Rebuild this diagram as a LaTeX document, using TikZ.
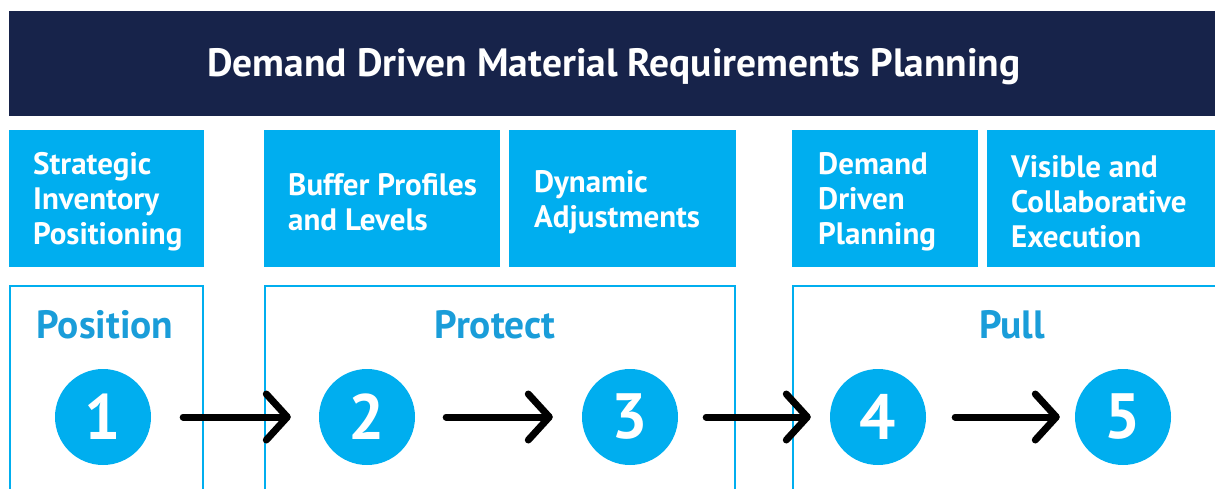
\documentclass[tikz,border=0pt]{standalone}
\usepackage{fontspec}
\usetikzlibrary{arrows.meta}
\setmainfont{PT Sans}
\definecolor{navy}{HTML}{17234A}
\definecolor{cyan}{HTML}{00AEEF}
\definecolor{lblue}{HTML}{1A9DD9}
\tikzset{
  topbox/.style={fill=cyan, draw=none},
  boxtext/.style={anchor=west, align=left, text=white, font=\bfseries\fontsize{31}{35}\selectfont, inner sep=0pt},
  frame/.style={draw=cyan, line width=2pt},
  phase/.style={text=lblue, font=\bfseries\fontsize{39.5}{42}\selectfont, inner sep=0pt},
  stepcircle/.style={circle, fill=cyan, minimum size=96pt, inner sep=0pt, text=white, font=\bfseries\fontsize{64}{64}\selectfont},
  flow/.style={line width=7pt, line cap=round, -{Straight Barb[length=21pt, width=46pt, line width=7pt, round]}}
}
\begin{document}
\begin{tikzpicture}[x=1pt, y=-1pt]
\useasboundingbox (0,0) rectangle (1215,488);
% header
\fill[navy] (9,11) rectangle (1215,116);
\node[text=white, font=\bfseries\fontsize{39.5}{42}\selectfont] (title) at (614,67) {Demand Driven Material Requirements Planning};
% top boxes
\fill[topbox] (9,130) rectangle (204,267);
\fill[topbox] (264,130) rectangle (500,267);
\fill[topbox] (509,130) rectangle (736,267);
\fill[topbox] (792,130) rectangle (978,267);
\fill[topbox] (987,130) rectangle (1215,267);
\node[boxtext] (t1) at (33,202) {Strategic\\Inventory\\Positioning};
\node[boxtext] (t2) at (288,202) {Buffer Profiles\\and Levels};
\node[boxtext] (t3) at (534,202) {Dynamic\\Adjustments};
\node[boxtext] (t4) at (818,202) {Demand\\Driven\\Planning};
\node[boxtext] (t5) at (1011,202) {Visible and\\Collaborative\\Execution};
% frames
\draw[frame] (10,490) -- (10,286) -- (203,286) -- (203,490);
\draw[frame] (265,490) -- (265,286) -- (735,286) -- (735,490);
\draw[frame] (793,490) -- (793,286) -- (1216,286);
\node[phase] (p1) at (105,325) {Position};
\node[phase] (p2) at (495,325) {Protect};
\node[phase] (p3) at (1012,325) {Pull};
% steps
\node[stepcircle] (s1) at (103,417) {1};
\node[stepcircle] (s2) at (367,417) {2};
\node[stepcircle] (s3) at (630,417) {3};
\node[stepcircle] (s4) at (878,417) {4};
\node[stepcircle] (s5) at (1123,417) {5};
\draw[flow, shorten <=32pt, shorten >=28pt] (s1.east) -- (s2.west);
\draw[flow, shorten <=31pt, shorten >=29pt] (s2.east) -- (s3.west);
\draw[flow, shorten <=28pt, shorten >=19pt] (s3.east) -- (s4.west);
\draw[flow, shorten <=29pt, shorten >=15pt] (s4.east) -- (s5.west);
\end{tikzpicture}
\end{document}
